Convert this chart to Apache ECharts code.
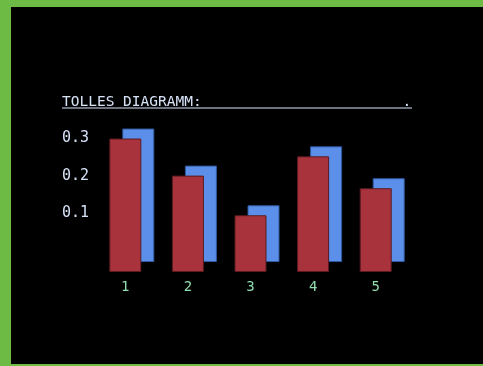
<!DOCTYPE html>
<html>
<head>
<meta charset="utf-8">
<script src="https://cdn.jsdelivr.net/npm/echarts@6/dist/echarts.min.js"></script>
<style>
  html, body { margin: 0; padding: 0; background: #6dbb45; }
  #chart { position: absolute; left: 11px; top: 7px; width: 472px; height: 357px; background: #000; }
</style>
</head>
<body>
<div id="chart"></div>
<script>
// Daten
const categories = ['1', '2', '3', '4', '5']
const values = [0.3, 0.2, 0.093, 0.252, 0.166]
const tickValues = [0.1, 0.2, 0.3]
const titleText = 'TOLLES DIAGRAMM:                       .'

const font = '"DejaVu Sans Mono", monospace'
const chart = echarts.init(document.getElementById('chart'))

// grid 0 = rote Balken, grid 1 = blauer "Schatten" (versetzt)
const option = {
  backgroundColor: '#000',
  animation: false,
  title: {
    text: titleText,
    left: 51,
    top: 88,
    padding: 0,
    textStyle: { color: '#d6e2f6', fontFamily: font, fontSize: 14.5, fontWeight: 'normal' },
  },
  graphic: [
    { type: 'rect', left: 51, top: 100, shape: { width: 350, height: 2 }, style: { fill: '#6c737e' } },
  ],
  grid: [
    { left: 83, right: 76, top: 113, bottom: 92 },
    { left: 96, right: 63, top: 103, bottom: 102 },
  ],
  xAxis: [
    {
      type: 'category', gridIndex: 0, data: categories,
      axisLine: { show: false }, axisTick: { show: false },
      axisLabel: { color: '#8fdcaf', fontFamily: font, fontSize: 14, margin: 8 },
    },
    {
      type: 'category', gridIndex: 1, data: categories, show: false,
    },
  ],
  yAxis: [
    {
      type: 'value', gridIndex: 0, min: -0.06, max: 0.35, startValue: -0.06,
      splitLine: { show: false }, axisLine: { show: false }, axisTick: { show: false },
      axisLabel: {
        color: '#d6e2f6', fontFamily: font, fontSize: 15, margin: 5,
        customValues: tickValues,
        formatter: (v) => v.toFixed(1),
      },
    },
    {
      type: 'value', gridIndex: 1, min: -0.06, max: 0.35, startValue: -0.06, show: false,
    },
  ],
  series: [
    {
      type: 'bar', xAxisIndex: 1, yAxisIndex: 1, data: values, barWidth: 32, z: 1,
      itemStyle: { color: '#5b8fea', borderColor: '#2f5aa0', borderWidth: 1 },
    },
    {
      type: 'bar', xAxisIndex: 0, yAxisIndex: 0, data: values, barWidth: 32, z: 2,
      itemStyle: { color: '#a8333d', borderColor: '#5a1a20', borderWidth: 1 },
    },
  ],
}
chart.setOption(option)
</script>
</body>
</html>
